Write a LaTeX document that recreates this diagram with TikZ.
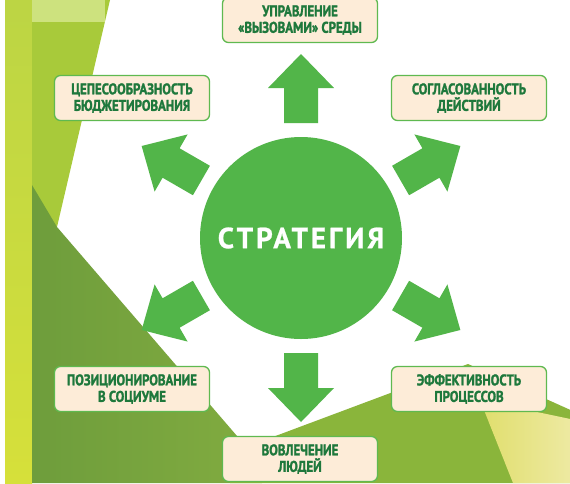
\documentclass[tikz,border=0pt]{standalone}
\usepackage{fontspec}
\setmainfont{PT Sans}
\newfontfamily\goalfont[BoldFeatures={FakeBold=1.5, FakeStretch=0.83}]{PT Sans}
\newfontfamily\corefont[LetterSpace=10, BoldFeatures={FakeBold=0.8}]{PT Sans}
\definecolor{arrowgreen}{HTML}{52B549}
\definecolor{boxline}{HTML}{5FB950}
\definecolor{boxfill}{HTML}{FDECD8}
\definecolor{goaltext}{HTML}{1E783C}
\definecolor{stripA}{HTML}{BCD544}
\definecolor{stripB}{HTML}{D6E03A}
\definecolor{leafA}{HTML}{A8CA3A}
\definecolor{leafTop}{HTML}{CDE27E}
\definecolor{hillA}{HTML}{6E9D3C}
\definecolor{hillB}{HTML}{82AC40}
\definecolor{fieldA}{HTML}{8AB53B}
\definecolor{sunA}{HTML}{E0DE6C}
\definecolor{sunB}{HTML}{EEEAA4}
\begin{document}
\begin{tikzpicture}[x=1pt,y=-1pt,
		goal/.style={draw=boxline, line width=1.3pt, fill=boxfill, rounded corners=6pt,
			minimum width=155pt, minimum height=45pt, inner sep=2pt, align=center,
			text=goaltext, font=\goalfont\fontsize{15.5}{16.5}\selectfont\bfseries},
		core/.style={circle, fill=arrowgreen, minimum size=202pt, text=white,
			font=\corefont\fontsize{29}{31}\selectfont\bfseries}]
		\useasboundingbox (0,0) rectangle (570,483);

		% Background
		\fill[white] (0,0) rectangle (570,483);
		\shade[top color=stripA, bottom color=stripB] (5,0) rectangle (32,483);
		\fill[leafA] (32,0) -- (110,0) -- (57,227) -- (32,260) -- cycle;
		\fill[leafTop] (32,0) rectangle (105,22);
		\shade[left color=hillA, right color=hillB] (32,185) -- (57,227) -- (262,465) -- (262,483) -- (32,483) -- cycle;
		\fill[fieldA] (230,453) -- (468,364) -- (575,412) -- (575,483) -- (230,483) -- cycle;
		\shade[left color=sunA, right color=sunB] (480,400) -- (575,420) -- (575,483) -- (513,483) -- cycle;

		% Centre
		\node[core] (strat) at (301,238) {СТРАТЕГИЯ};

		% Arrows
		\foreach \a in {90,30,-30,-90,210,150}
			\fill[arrowgreen, shift={(strat.center)}, rotate=\a]
				(115,-17) -- (150,-17) -- (150,-33) -- (184,0) -- (150,33) -- (150,17) -- (115,17) -- cycle;

		% Goals
		\node[goal] (env) at (300,20) {УПРАВЛЕНИЕ\\«ВЫЗОВАМИ» СРЕДЫ};
		\node[goal] (budget) at (132,98) {ЦЕПЕСООБРАЗНОСТЬ\\БЮДЖЕТИРОВАНИЯ};
		\node[goal] (actions) at (469,98) {СОГЛАСОВАННОСТЬ\\ДЕЙСТВИЙ};
		\node[goal] (society) at (132,389) {ПОЗИЦИОНИРОВАНИЕ\\В СОЦИУМЕ};
		\node[goal] (process) at (469,389) {ЭФФЕКТИВНОСТЬ\\ПРОЦЕССОВ};
		\node[goal] (people) at (300,459) {ВОВЛЕЧЕНИЕ\\ЛЮДЕЙ};
	\end{tikzpicture}
\end{document}
